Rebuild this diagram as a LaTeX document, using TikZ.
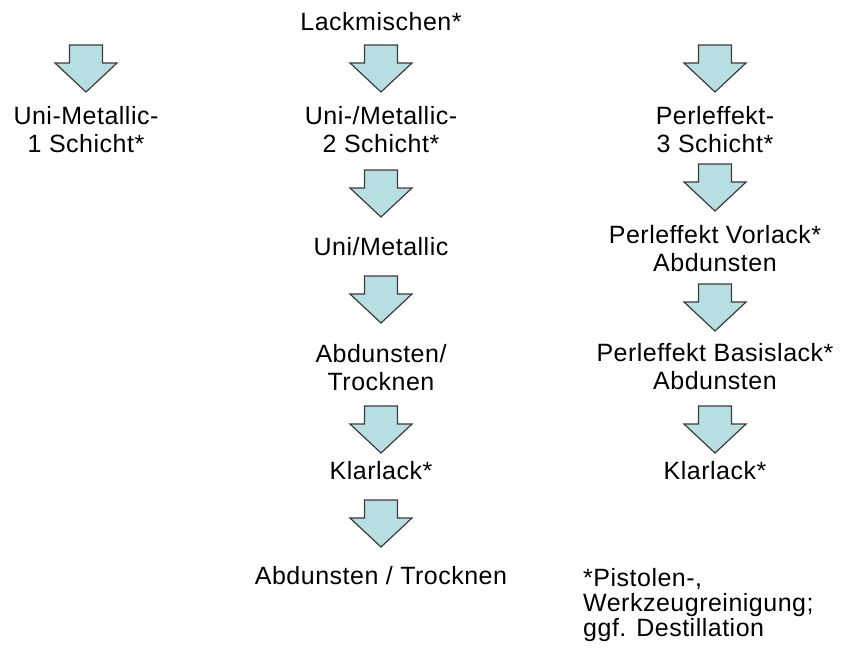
\documentclass[tikz,border=0pt]{standalone}
\usepackage{fontspec}
\setmainfont{Liberation Sans}[LetterSpace=2]
\usetikzlibrary{positioning}

\definecolor{pfeil}{RGB}{183,222,224}
\definecolor{rand}{RGB}{60,60,60}

\tikzset{
    txt/.style={align=center,font=\fontsize{25}{28}\selectfont,inner sep=0pt},
    fuss/.style={align=left,font=\fontsize{25}{25}\selectfont,inner sep=0pt},
    pics/runter/.style={code={
        \draw[fill=pfeil,draw=rand,line width=1.2pt]
            (-16.5,0) -- (16.5,0) -- (16.5,18) -- (31,18) -- (0,47)
            -- (-31,18) -- (-16.5,18) -- cycle;
    }}
}

\begin{document}
\begin{tikzpicture}[x=1pt,y=-1pt]
    \useasboundingbox (0,0) rectangle (843,651);
    %
    % linke Spalte
    \pic at (86,45) {runter};
    \node[txt] (uni1) at (86,130) {Uni-Metallic-\\1 Schicht*};
    %
    % mittlere Spalte
    \node[txt] (mischen) at (381,22) {Lackmischen*};
    \pic at (381,45) {runter};
    \node[txt] (uni2) at (381,130) {Uni-/Metallic-\\2 Schicht*};
    \pic at (381,170) {runter};
    \node[txt] (unimet) at (381,247) {Uni/Metallic};
    \pic at (381,276) {runter};
    \node[txt] (abd1) at (381,368) {Abdunsten/\\Trocknen};
    \pic at (381,406) {runter};
    \node[txt] (klar1) at (381,471) {Klarlack*};
    \pic at (381,500) {runter};
    \node[txt] (abd2) at (381,576) {Abdunsten / Trocknen};
    %
    % rechte Spalte
    \pic at (715,45) {runter};
    \node[txt] (perl3) at (715,130) {Perleffekt-\\3 Schicht*};
    \pic at (715,164) {runter};
    \node[txt] (vorlack) at (715,249) {Perleffekt Vorlack*\\Abdunsten};
    \pic at (715,284) {runter};
    \node[txt] (basis) at (715,367) {Perleffekt Basislack*\\Abdunsten};
    \pic at (715,406) {runter};
    \node[txt] (klar2) at (715,471) {Klarlack*};
    %
    \node[fuss,anchor=north west] (fussnote) at (583,568) {*Pistolen-,\\Werkzeugreinigung;\\ggf. Destillation};
    %
\end{tikzpicture}
\end{document}
